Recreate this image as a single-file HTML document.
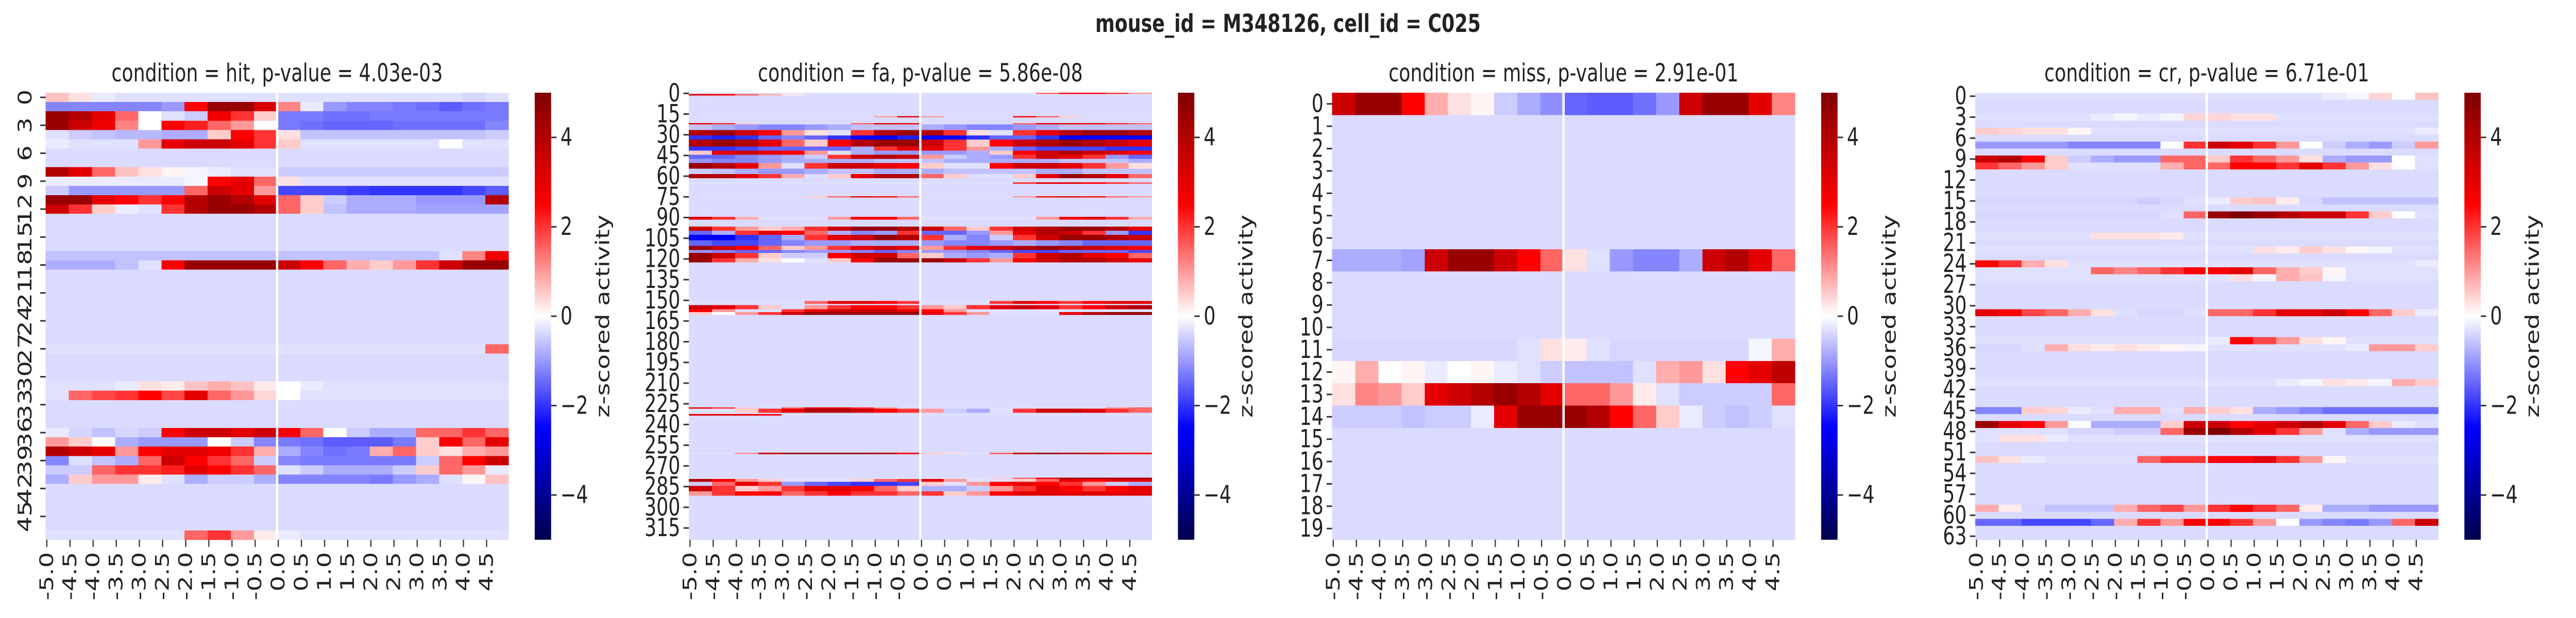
<!DOCTYPE html>
<html><head><meta charset="utf-8">
<style>
html,body{margin:0;padding:0;background:#fff;width:100%;height:100%;overflow:hidden;}
svg{display:block;position:absolute;left:0;top:0;width:100vw;height:100vh;font-family:"DejaVu Sans","Liberation Sans",sans-serif;}
</style></head>
<body>
<svg id="fig" viewBox="0 0 6600 1200" preserveAspectRatio="none" xmlns="http://www.w3.org/2000/svg">
<text x="3300" y="62" text-anchor="middle" font-size="48" font-weight="bold" fill="#222">mouse_id = M348126, cell_id = C025</text>
</svg>
<script>
// ---------- data ----------
const conditions = ["hit","fa","miss","cr"];
const pValues = ["4.03e-03","5.86e-08","2.91e-01","6.71e-01"];
const rowCounts = [48,324,20,64];
const yTickSteps = [3,15,1,3];
const xTickLabels = ["-5.0","-4.5","-4.0","-3.5","-3.0","-2.5","-2.0","-1.5","-1.0","-0.5","0.0","0.5","1.0","1.5","2.0","2.5","3.0","3.5","4.0","4.5"];
const cbarTicks = [4,2,0,-2,-4];
const baseline = -0.35;

const hitRowIdx = [0,1,2,3,4,5,8,9,10,11,12,17,18,27,31,32,36,37,38,39,40,41,47];
const hitRowVals = [
[0.6,0.3,-0.2,-0.3,-0.3,-0.3,-0.3,-0.3,-0.3,-0.3,-0.3,-0.3,-0.3,-0.3,-0.3,-0.3,-0.3,-0.3,-0.4,-0.3],
[-1.2,-1.2,-1.2,-1.2,-1.2,-1.0,2.5,4.5,4.5,3.2,1.2,-0.2,-1.0,-1.2,-1.2,-1.3,-1.4,-1.6,-1.4,-1.3],
[4.5,4.0,3.0,1.5,0.0,-0.3,-0.5,2.8,2.0,0.5,-1.3,-1.3,-1.4,-1.4,-1.3,-1.3,-1.3,-1.3,-1.3,-1.3],
[4.5,3.5,2.8,1.2,0.0,2.5,2.2,1.5,1.0,0.0,-1.3,-1.4,-1.5,-1.5,-1.5,-1.4,-1.4,-1.4,-1.4,-1.2],
[-0.3,-0.5,-0.6,-0.7,-0.7,-0.8,-0.8,0.5,2.5,2.0,0.3,-0.6,-0.6,-0.6,-0.6,-0.6,-0.6,-0.6,-0.6,-0.5],
[-0.2,-0.3,-0.3,-0.3,1.0,3.0,3.5,3.5,3.0,2.0,0.5,-0.3,-0.3,-0.3,-0.3,-0.3,-0.3,0.0,-0.3,-0.3],
[4.0,3.0,1.5,0.6,0.3,0.1,-0.1,-0.2,-0.3,-0.3,-0.5,-0.5,-0.5,-0.5,-0.5,-0.5,-0.5,-0.5,-0.5,-0.5],
[-0.2,-0.2,-0.2,-0.2,-0.2,-0.2,-0.1,2.5,3.0,1.5,0.3,-0.3,-0.3,-0.3,-0.3,-0.3,-0.3,-0.3,-0.3,-0.3],
[-0.5,-1.0,-1.0,-1.0,-1.0,-1.0,1.5,3.5,3.0,1.0,-1.8,-1.8,-1.8,-1.9,-2.0,-2.0,-2.0,-2.0,-1.8,-1.6],
[4.5,4.5,3.0,2.5,2.0,2.5,4.0,4.5,4.0,3.0,1.5,0.5,-0.5,-0.8,-0.8,-0.8,-1.0,-1.0,-1.0,4.0],
[3.5,2.0,0.5,-0.2,-0.3,2.0,4.0,4.5,4.5,4.0,1.5,0.5,-0.6,-0.8,-0.8,-0.8,-0.9,-0.9,-0.9,-0.9],
[-0.6,-0.6,-0.6,-0.6,-0.6,-0.6,-0.6,-0.6,-0.6,-0.6,-0.6,-0.6,-0.6,-0.6,-0.6,-0.6,-0.6,-0.3,1.2,2.8],
[-0.8,-0.8,-0.8,-0.6,-0.3,2.5,4.5,4.5,4.5,4.5,3.5,2.5,1.5,0.8,0.5,1.0,2.0,3.5,4.5,4.5],
[-0.3,-0.3,-0.3,-0.3,-0.3,-0.3,-0.3,-0.3,-0.3,-0.3,-0.3,-0.3,-0.3,-0.3,-0.3,-0.3,-0.3,-0.3,-0.3,1.5],
[-0.3,-0.3,-0.3,-0.2,0.3,0.2,0.6,0.8,0.6,0.2,0.0,-0.2,-0.3,-0.3,-0.3,-0.3,-0.3,-0.3,-0.3,-0.3],
[-0.3,1.5,1.8,2.0,2.5,1.8,3.0,1.5,1.0,0.4,0.0,-0.3,-0.3,-0.3,-0.3,-0.3,-0.3,-0.3,-0.3,-0.3],
[-0.2,-0.4,-0.6,-0.4,-0.5,2.5,3.5,3.5,3.0,3.5,2.5,1.5,0.0,-0.5,-0.8,-0.8,1.5,1.5,2.0,1.5],
[1.0,0.5,0.0,-0.8,-1.0,-1.0,-1.0,0.0,-0.5,-1.2,-1.3,-1.4,-1.6,-1.6,-1.6,-1.3,0.5,2.5,1.5,3.0],
[4.0,3.5,3.0,1.0,2.5,3.0,3.0,2.8,2.0,0.8,-0.8,-1.2,-1.4,-1.3,0.8,1.5,0.5,0.3,0.8,1.0],
[-1.2,-0.3,-0.6,-0.8,1.5,3.5,2.5,2.0,1.5,-0.5,-1.2,-1.3,-1.3,-1.3,-1.3,-1.3,-0.5,1.5,2.5,3.5],
[-0.5,-0.5,1.5,2.0,2.0,2.2,3.0,2.5,2.0,1.5,-0.3,-0.5,-0.8,-0.8,-0.8,-0.5,0.5,1.5,1.0,-0.2],
[-0.8,0.5,1.0,1.0,0.2,-0.3,-0.8,-0.5,-0.5,-0.8,-1.2,-1.2,-1.2,-1.2,-1.3,-1.0,-0.8,-0.3,0.1,0.6],
[-0.3,-0.3,-0.3,-0.3,-0.3,-0.3,1.5,2.0,1.0,0.2,-0.2,-0.3,-0.3,-0.3,-0.3,-0.3,-0.3,-0.3,-0.3,-0.3]
];

const faBandStart = [0,1,17,22,23,27,31,34,39,42,45,48,51,55,59,65,75,90,97,100,103,107,111,114,116,120,151,154,157,159,228,229,233,261,279,280,282,285,289];
const faBandEnd   = [0,1,17,22,26,30,33,38,41,44,47,50,54,58,61,65,75,91,99,102,106,110,113,115,119,122,152,156,158,160,228,231,233,261,279,281,284,288,291];
const faBandVals = [
[-0.3,-0.3,-0.3,-0.3,-0.3,-0.3,-0.3,-0.3,-0.3,-0.3,-0.3,-0.3,-0.3,-0.3,-0.3,1.5,2.5,2.5,2.0,1.0],
[3.0,2.5,1.5,0.8,0.2,-0.3,-0.3,-0.3,-0.3,-0.3,-0.3,-0.3,-0.3,-0.3,-0.3,-0.3,-0.3,-0.3,-0.3,-0.3],
[-0.3,-0.3,-0.3,-0.3,-0.3,-0.3,-0.3,-0.3,1.0,3.0,1.0,-0.3,-0.3,-0.3,2.5,1.5,0.5,-0.3,-0.3,-0.3],
[3.0,2.0,0.5,-0.3,-0.3,-0.3,-0.3,1.5,3.0,2.5,-0.3,-0.3,-0.3,-0.3,1.5,3.0,3.0,2.5,2.0,1.5],
[-0.6,-0.8,-1.0,-1.2,-1.2,-1.0,-0.8,-0.6,-0.6,-0.6,-0.8,-1.0,-1.2,-1.2,-1.0,-0.8,-0.6,-0.6,-0.6,-0.6],
[4.0,4.5,3.5,2.5,1.0,0.3,-0.3,2.0,4.0,4.5,4.0,2.0,0.3,-0.3,2.0,3.0,4.0,4.5,4.5,4.0],
[-2.0,-2.2,-2.0,-1.5,-1.2,-1.5,-2.0,-2.5,-2.5,-2.2,-2.5,-2.5,-2.0,-1.5,-1.5,-2.0,-2.5,-2.5,-2.5,-2.5],
[4.0,4.5,4.0,3.0,1.5,0.5,2.5,4.0,4.5,4.5,3.5,2.0,0.5,2.5,3.5,4.0,4.5,4.0,3.5,3.0],
[-2.0,-2.0,-1.8,-1.5,-1.5,-1.5,-1.5,-0.8,2.0,3.0,3.0,2.0,1.0,-0.8,-1.5,-1.8,-1.8,-1.8,-2.0,-2.0],
[0.5,3.0,3.5,3.0,2.5,1.0,-0.3,-0.8,-1.0,-1.0,-1.0,-1.0,-0.8,0.5,2.5,3.5,4.0,3.5,3.0,2.5],
[-1.5,-1.5,-1.2,-1.0,-0.8,-0.5,2.0,3.5,4.0,3.5,1.0,-0.5,-0.8,-1.0,2.0,3.5,3.0,2.0,-1.0,-1.5],
[-1.0,-1.2,-1.2,-1.0,-0.8,-0.8,-0.8,-0.8,-0.6,-0.6,-0.6,-0.8,-0.8,-0.8,-0.8,-0.8,-0.6,-0.6,-0.6,-0.8],
[4.5,4.0,3.0,1.0,-0.3,2.0,3.5,3.5,3.0,2.5,0.5,-0.3,-0.3,2.5,3.5,3.5,3.0,2.0,1.0,0.3],
[-0.5,-0.6,-0.8,-1.0,-1.0,-0.8,-0.6,-0.6,-0.8,-0.8,-0.8,-0.6,-0.6,-0.6,-0.6,-0.8,-0.8,-0.6,-0.6,-0.6],
[4.0,4.0,3.0,2.0,0.8,-0.3,0.5,3.0,4.0,4.0,1.5,0.5,-0.3,-0.3,0.5,3.0,4.5,4.0,3.0,1.5],
[-0.3,-0.3,-0.3,-0.3,-0.3,-0.3,-0.3,-0.3,-0.3,-0.3,-0.3,-0.3,-0.3,-0.3,2.0,3.0,3.0,2.5,2.0,1.5],
[-0.3,-0.3,-0.3,-0.3,-0.3,0.5,1.5,3.0,2.5,1.5,-0.3,-0.3,-0.3,-0.3,1.0,2.5,3.0,2.5,1.5,1.0],
[3.0,2.0,0.8,-0.3,-0.3,-0.3,1.0,2.5,2.5,1.5,-0.3,-0.3,-0.3,-0.3,-0.3,1.0,2.5,3.0,2.0,0.8],
[3.5,2.0,1.0,0.5,0.8,2.0,3.5,4.5,4.5,4.0,3.5,1.5,0.5,2.0,3.5,4.0,4.5,4.5,4.0,3.0],
[-1.5,-0.8,2.0,3.0,2.5,1.5,-0.8,-1.2,-1.0,2.0,-1.5,-1.5,-1.0,1.0,3.0,4.0,3.5,2.0,-1.0,-2.0],
[-2.5,-2.5,-2.0,-1.5,-0.8,2.0,3.0,3.5,4.5,4.0,2.0,-0.8,-1.2,-0.5,2.0,3.5,4.5,4.5,4.0,3.5],
[-1.5,-1.8,-1.8,-1.5,-1.2,-1.0,-1.0,-0.8,-0.8,-0.8,-1.0,-1.2,-1.2,-1.0,-0.8,-1.0,-1.2,-1.5,-1.5,-1.5],
[4.5,3.5,2.5,1.5,0.5,1.0,2.0,3.0,3.5,3.0,1.0,2.0,3.0,3.5,4.0,4.5,4.0,3.5,3.0,2.5],
[-1.0,-1.2,-1.5,-1.5,-1.2,-1.0,-1.0,-1.2,-1.5,-1.2,-1.0,-1.0,-1.2,-1.5,-1.8,-1.8,-1.5,-1.5,-1.5,-1.8],
[4.5,3.5,2.0,0.5,-0.5,-0.5,2.5,3.5,3.5,1.5,0.5,-0.8,-1.0,-0.8,2.0,3.5,4.0,3.0,2.5,1.5],
[4.5,2.0,0.8,0.3,0.0,-0.3,0.5,2.5,4.5,4.5,4.5,3.5,2.0,1.0,2.5,3.5,4.0,4.0,3.5,3.0],
[-0.3,-0.3,-0.3,-0.3,-0.3,1.5,3.0,3.0,2.5,2.0,-0.3,-0.3,-0.3,2.0,3.0,2.5,2.0,2.5,3.0,3.0],
[3.5,3.0,2.0,0.5,-0.3,1.0,2.0,2.5,2.5,2.0,1.0,0.5,2.0,3.0,3.5,3.0,2.0,2.5,3.5,4.0],
[2.5,1.0,-0.3,-0.3,2.0,3.0,3.5,3.5,3.5,3.0,2.5,1.0,-0.3,-0.3,-0.3,-0.3,-0.3,-0.3,-0.3,-0.3],
[0.5,0.0,1.0,2.0,3.5,4.5,4.5,4.5,4.5,4.5,3.0,2.0,1.0,-0.3,-0.3,-0.3,3.0,4.0,4.5,4.5],
[3.0,2.0,0.5,-0.3,1.5,3.0,3.0,2.0,1.0,-0.3,-0.3,-0.3,-0.3,-0.3,-0.3,-0.3,-0.3,-0.3,1.0,1.5],
[-0.3,-0.3,0.5,2.0,3.0,4.0,4.0,3.5,2.5,2.0,1.0,-0.5,-0.8,-0.3,2.0,3.5,3.5,3.0,2.0,1.5],
[3.0,3.0,3.0,2.5,-0.3,-0.3,-0.3,-0.3,-0.3,-0.3,-0.3,-0.3,-0.3,-0.3,-0.3,-0.3,-0.3,-0.3,-0.3,-0.3],
[-0.3,-0.3,1.0,3.5,4.5,4.5,4.5,4.5,4.0,2.5,0.5,0.3,-0.3,1.5,3.5,4.5,4.0,3.5,3.0,2.5],
[-0.3,-0.3,-0.3,-0.3,-0.3,-0.3,-0.3,-0.3,-0.3,-0.3,-0.3,-0.3,-0.3,0.5,1.5,3.0,4.5,4.5,4.5,4.5],
[4.0,2.5,1.0,0.5,-0.3,-0.3,-0.3,0.5,1.5,2.0,3.0,1.0,-0.3,-0.3,0.5,1.5,3.0,2.5,3.0,3.0],
[-0.5,1.5,3.0,2.0,-1.0,-1.5,-1.8,-2.0,-2.0,-1.8,0.5,-0.3,1.0,2.5,3.0,2.5,2.0,1.0,-0.5,-0.8],
[3.5,2.0,0.5,1.0,2.0,3.0,3.0,2.5,1.5,0.5,-0.8,-0.8,-0.5,1.0,2.0,3.0,2.5,2.0,2.5,3.0],
[1.0,2.0,2.5,2.5,1.5,2.0,2.5,2.0,2.0,1.5,2.0,0.5,1.0,2.5,3.0,3.0,3.0,3.0,3.0,3.0]
];

const missRowIdx = [0,7,11,12,13,14];
const missRowVals = [
[3.5,4.5,4.5,2.5,0.8,0.3,0.1,-0.5,-0.8,-1.1,-1.5,-1.6,-1.6,-1.4,-1.0,3.5,4.5,4.5,3.0,1.2],
[-0.8,-0.8,-0.8,-0.9,3.5,4.5,4.5,3.5,2.5,1.5,0.3,-0.3,-1.0,-1.2,-1.2,-0.8,3.5,4.0,3.0,1.5],
[-0.4,-0.4,-0.4,-0.4,-0.4,-0.4,-0.4,-0.4,-0.3,0.3,0.2,-0.3,-0.4,-0.4,-0.4,-0.4,-0.4,-0.4,-0.1,0.8],
[0.1,0.8,0.0,0.1,-0.2,0.0,0.1,-0.2,-0.3,-0.5,-0.6,-0.6,-0.6,-0.3,0.8,1.0,0.3,2.5,3.0,3.8],
[0.3,1.2,1.0,0.5,3.0,3.5,4.0,4.5,4.0,3.0,1.5,1.5,1.0,0.2,-0.3,-0.5,-0.5,-0.5,-0.5,1.5],
[-0.5,-0.5,-0.5,-0.6,-0.5,-0.5,-0.2,3.0,4.5,4.5,4.5,4.0,2.5,1.5,0.5,-0.2,-0.5,-0.6,-0.5,-0.3]
];

const crRowIdx = [0,3,5,7,9,10,15,17,20,22,24,25,26,31,35,36,41,45,47,48,49,52,59,61];
const crRowVals = [
[-0.3,-0.3,-0.3,-0.3,-0.3,-0.3,-0.3,-0.3,-0.3,-0.3,-0.3,-0.3,-0.3,-0.3,-0.3,-0.2,-0.1,0.4,0.0,0.6],
[-0.3,-0.3,-0.3,-0.3,-0.3,-0.2,-0.1,-0.2,-0.1,0.4,0.4,0.3,0.3,-0.3,-0.3,-0.3,-0.3,-0.3,-0.3,-0.3],
[0.5,0.4,0.3,0.3,0.1,-0.3,-0.3,-0.3,-0.3,-0.3,-0.3,-0.3,-0.3,-0.3,-0.3,-0.3,-0.3,-0.3,-0.3,-0.2],
[-1.0,-1.0,-1.0,-1.0,-1.2,-1.2,-1.2,-1.2,0.0,2.0,3.5,3.0,2.0,1.0,0.0,-0.5,-0.8,-1.0,-0.5,1.0],
[3.5,4.0,2.5,0.5,-0.5,-0.8,-1.0,-1.0,1.5,1.5,0.5,2.0,1.5,1.0,0.3,-0.8,-1.0,-1.0,0.0,-0.3],
[2.0,1.5,1.0,0.5,-0.3,-0.3,-0.3,-0.3,0.8,1.5,1.5,2.5,2.5,2.0,3.0,2.0,1.0,0.3,0.0,-0.3],
[-0.4,-0.4,-0.4,-0.4,-0.4,-0.4,-0.4,-0.5,-0.4,-0.3,-0.2,0.5,0.6,0.2,-0.4,-0.6,-0.6,-0.6,-0.6,-0.6],
[-0.4,-0.4,-0.4,-0.4,-0.4,-0.4,-0.4,-0.4,-0.3,1.5,4.5,5.0,4.5,4.0,3.5,3.5,2.0,0.5,0.0,-0.3],
[-0.3,-0.3,-0.3,-0.3,-0.3,0.3,0.3,0.3,0.2,-0.3,-0.3,-0.3,-0.3,-0.3,-0.3,-0.3,-0.3,-0.3,-0.3,-0.3],
[-0.3,-0.3,-0.3,-0.3,-0.3,-0.3,-0.3,-0.3,-0.3,-0.3,-0.3,-0.3,0.3,0.2,0.5,0.3,0.1,-0.1,-0.3,-0.3],
[2.5,2.0,0.8,0.3,-0.3,-0.3,-0.3,-0.3,-0.3,-0.3,-0.3,-0.3,-0.3,-0.3,-0.3,-0.3,-0.3,-0.3,-0.3,-0.2],
[-0.3,-0.3,-0.3,-0.3,-0.3,1.5,1.2,1.5,2.0,2.5,2.5,3.0,1.5,0.8,0.5,0.1,-0.3,-0.3,-0.3,-0.3],
[-0.3,-0.3,-0.3,-0.3,-0.3,-0.3,-0.3,-0.3,-0.3,-0.3,-0.3,0.3,-0.1,0.8,0.6,-0.1,-0.3,-0.3,-0.3,-0.3],
[3.0,2.5,1.8,1.5,0.8,0.3,-0.3,-0.4,-0.4,-0.3,1.5,1.5,2.0,3.0,3.0,3.5,2.5,1.5,0.5,-0.2],
[-0.3,-0.3,-0.3,-0.3,-0.3,-0.3,-0.3,-0.3,-0.3,-0.3,-0.2,2.5,1.8,1.0,0.3,0.1,-0.3,-0.3,-0.3,-0.3],
[-0.4,-0.4,-0.3,0.8,0.3,0.2,0.3,0.2,0.1,-0.1,-0.3,-0.3,-0.3,-0.3,-0.3,-0.3,-0.2,1.0,1.0,0.5],
[-0.3,-0.3,-0.3,-0.3,-0.3,-0.3,-0.3,-0.3,-0.3,-0.3,-0.3,-0.3,-0.3,-0.2,-0.1,0.3,0.2,-0.1,0.8,0.5],
[-1.2,-1.2,0.5,0.4,-0.2,-0.3,0.8,0.8,-0.3,0.8,0.5,0.3,-0.8,-1.0,-1.2,-1.4,-1.4,-1.4,-1.4,-1.4],
[4.5,3.0,2.5,1.0,0.0,-0.8,-0.8,-0.8,0.5,3.5,3.5,2.5,3.0,3.5,4.0,3.0,1.5,0.5,-0.2,-0.3],
[-0.3,-0.3,-0.3,-0.3,-0.4,-0.4,-0.5,-0.5,1.5,4.5,5.0,4.0,3.0,2.0,1.0,-0.3,-0.8,-1.0,-1.0,-1.0],
[-0.3,0.3,0.3,-0.2,-0.3,-0.3,-0.3,-0.3,-0.3,-0.3,-0.3,-0.3,-0.3,-0.3,-0.3,-0.3,-0.3,-0.3,-0.3,-0.3],
[0.6,0.3,-0.2,-0.3,-0.3,-0.3,-0.3,1.5,2.0,2.0,2.5,2.5,3.0,2.0,1.0,0.1,-0.3,-0.3,-0.3,-0.3],
[0.8,0.2,-0.4,-0.6,-0.6,-0.6,0.8,1.5,1.8,1.0,2.0,2.5,2.0,1.5,0.2,-0.8,-0.8,-1.0,-1.0,-1.0],
[-1.5,-1.5,-1.8,-1.8,-1.8,-1.5,0.8,2.0,1.0,2.5,2.5,2.0,1.0,0.0,-1.0,-1.2,-1.3,-1.0,1.5,3.5]
];

// ---------- layout ----------
const NS = "http://www.w3.org/2000/svg";
const svg = document.getElementById("fig");
const panelX0 = 117, panelStep = 1648, hmW = 1186, hmTop = 180, hmH = 868;
const nCols = 20, vmin = -5, vmax = 5;
const FS = "48";

function seismic(v){
  let t = (v - vmin) / (vmax - vmin); t = Math.max(0, Math.min(1, t));
  let r,g,b;
  if (t < 0.25){ r=0; g=0; b=0.3+0.7*t/0.25; }
  else if (t < 0.5){ const s=(t-0.25)/0.25; r=s; g=s; b=1; }
  else if (t < 0.75){ const s=(t-0.5)/0.25; r=1; g=1-s; b=1-s; }
  else { const s=(t-0.75)/0.25; r=1-0.5*s; g=0; b=0; }
  return "rgb("+Math.round(r*255)+","+Math.round(g*255)+","+Math.round(b*255)+")";
}
function mk(tag, attrs, parent){
  const e = document.createElementNS(NS, tag);
  for (const k in attrs) e.setAttribute(k, attrs[k]);
  (parent || svg).appendChild(e);
  return e;
}

function buildMatrix(p){
  const n = rowCounts[p];
  const m = [];
  for (let r = 0; r < n; r++){ const row=[]; for (let c=0;c<nCols;c++) row.push(baseline); m.push(row); }
  if (p === 1){
    for (let b = 0; b < faBandStart.length; b++)
      for (let r = faBandStart[b]; r <= faBandEnd[b]; r++) m[r] = faBandVals[b].slice();
  } else {
    const idx = p===0 ? hitRowIdx : p===2 ? missRowIdx : crRowIdx;
    const vals = p===0 ? hitRowVals : p===2 ? missRowVals : crRowVals;
    for (let i = 0; i < idx.length; i++) m[idx[i]] = vals[i].slice();
  }
  return m;
}

const defs = mk("defs", {});
const grad = mk("linearGradient", {id:"cbgrad", x1:"0", y1:"1", x2:"0", y2:"0"}, defs);
for (let i = 0; i <= 20; i++){
  const v = vmin + (vmax - vmin) * i / 20;
  mk("stop", {offset: (i/20).toString(), "stop-color": seismic(v)}, grad);
}

for (let p = 0; p < conditions.length; p++){
  const L = panelX0 + p * panelStep;
  const n = rowCounts[p];
  const xScale = c => L + c * hmW / nCols;
  const yScale = r => hmTop + r * hmH / n;
  const vScale = v => hmTop + (vmax - v) / (vmax - vmin) * hmH;

  const g = mk("g", {});
  
  

  const title = mk("text", {x: L + hmW/2, y: 158, "text-anchor":"middle", "font-size":FS, fill:"#222"}, g);
  
  
  title.textContent = "condition = " + conditions[p] + ", p-value = " + pValues[p];

  const cells = mk("g", {"shape-rendering":"crispEdges"}, g);
  
  
  const m = buildMatrix(p);
  for (let r = 0; r < n; r++){
    const y0 = yScale(r), y1 = yScale(r+1);
    for (let c = 0; c < nCols; c++){
      const x0 = xScale(c), x1 = xScale(c+1);
      const rc = mk("rect", {x: x0.toFixed(2), y: y0.toFixed(2), width: (x1-x0+0.6).toFixed(2), height: (y1-y0+0.6).toFixed(2), fill: seismic(m[r][c])}, cells);
      
      
    }
  }
  const zl = mk("line", {x1: xScale(10), x2: xScale(10), y1: hmTop, y2: hmTop + hmH, stroke:"#fff", "stroke-width":"6"}, g);
  
  

  for (let k = 0; k < xTickLabels.length; k++){
    const x = xScale(k) + 3;
    const tk = mk("line", {x1:x, x2:x, y1:hmTop+hmH, y2:hmTop+hmH+14, stroke:"#333", "stroke-width":"3"}, g);
    
    
    const t = mk("text", {x:0, y:0, "font-size":FS, fill:"#222", "text-anchor":"end", "dominant-baseline":"central", transform:"translate("+x+","+(hmTop+hmH+24)+") rotate(-90)"}, g);
    
    
    t.textContent = xTickLabels[k];
  }
  for (let r = 0; r < n; r += yTickSteps[p]){
    const y = (yScale(r) + yScale(r+1)) / 2;
    const tk = mk("line", {x1:L-14, x2:L, y1:y, y2:y, stroke:"#333", "stroke-width":"3"}, g);
    
    
    let t;
    if (p === 0){
      t = mk("text", {x:0, y:0, "font-size":FS, fill:"#222", "text-anchor":"middle", "dominant-baseline":"central", transform:"translate("+(L-52)+","+y+") rotate(-90)"}, g);
    } else {
      t = mk("text", {x:L-22, y:y, "font-size":FS, fill:"#222", "text-anchor":"end", "dominant-baseline":"central"}, g);
    }
    
    
    t.textContent = String(r);
  }
  const cbX = L + 1253, cbW = 42;
  const cb = mk("rect", {x:cbX, y:hmTop, width:cbW, height:hmH, fill:"url(#cbgrad)"}, g);
  
  
  for (let i = 0; i < cbarTicks.length; i++){
    const y = vScale(cbarTicks[i]);
    const tk = mk("line", {x1:cbX+cbW, x2:cbX+cbW+14, y1:y, y2:y, stroke:"#333", "stroke-width":"3"}, g);
    
    
    const t = mk("text", {x:cbX+cbW+24, y:y, "font-size":FS, fill:"#222", "dominant-baseline":"central"}, g);
    
    
    t.textContent = cbarTicks[i] < 0 ? "\u2212" + Math.abs(cbarTicks[i]) : String(cbarTicks[i]);
  }
  const cl = mk("text", {x:0, y:0, "font-size":FS, fill:"#222", "text-anchor":"middle", "dominant-baseline":"central", transform:"translate("+(cbX+175)+","+(hmTop+hmH/2)+") rotate(-90)"}, g);
  
  
  cl.textContent = "z-scored activity";
}
</script>
</body></html>
